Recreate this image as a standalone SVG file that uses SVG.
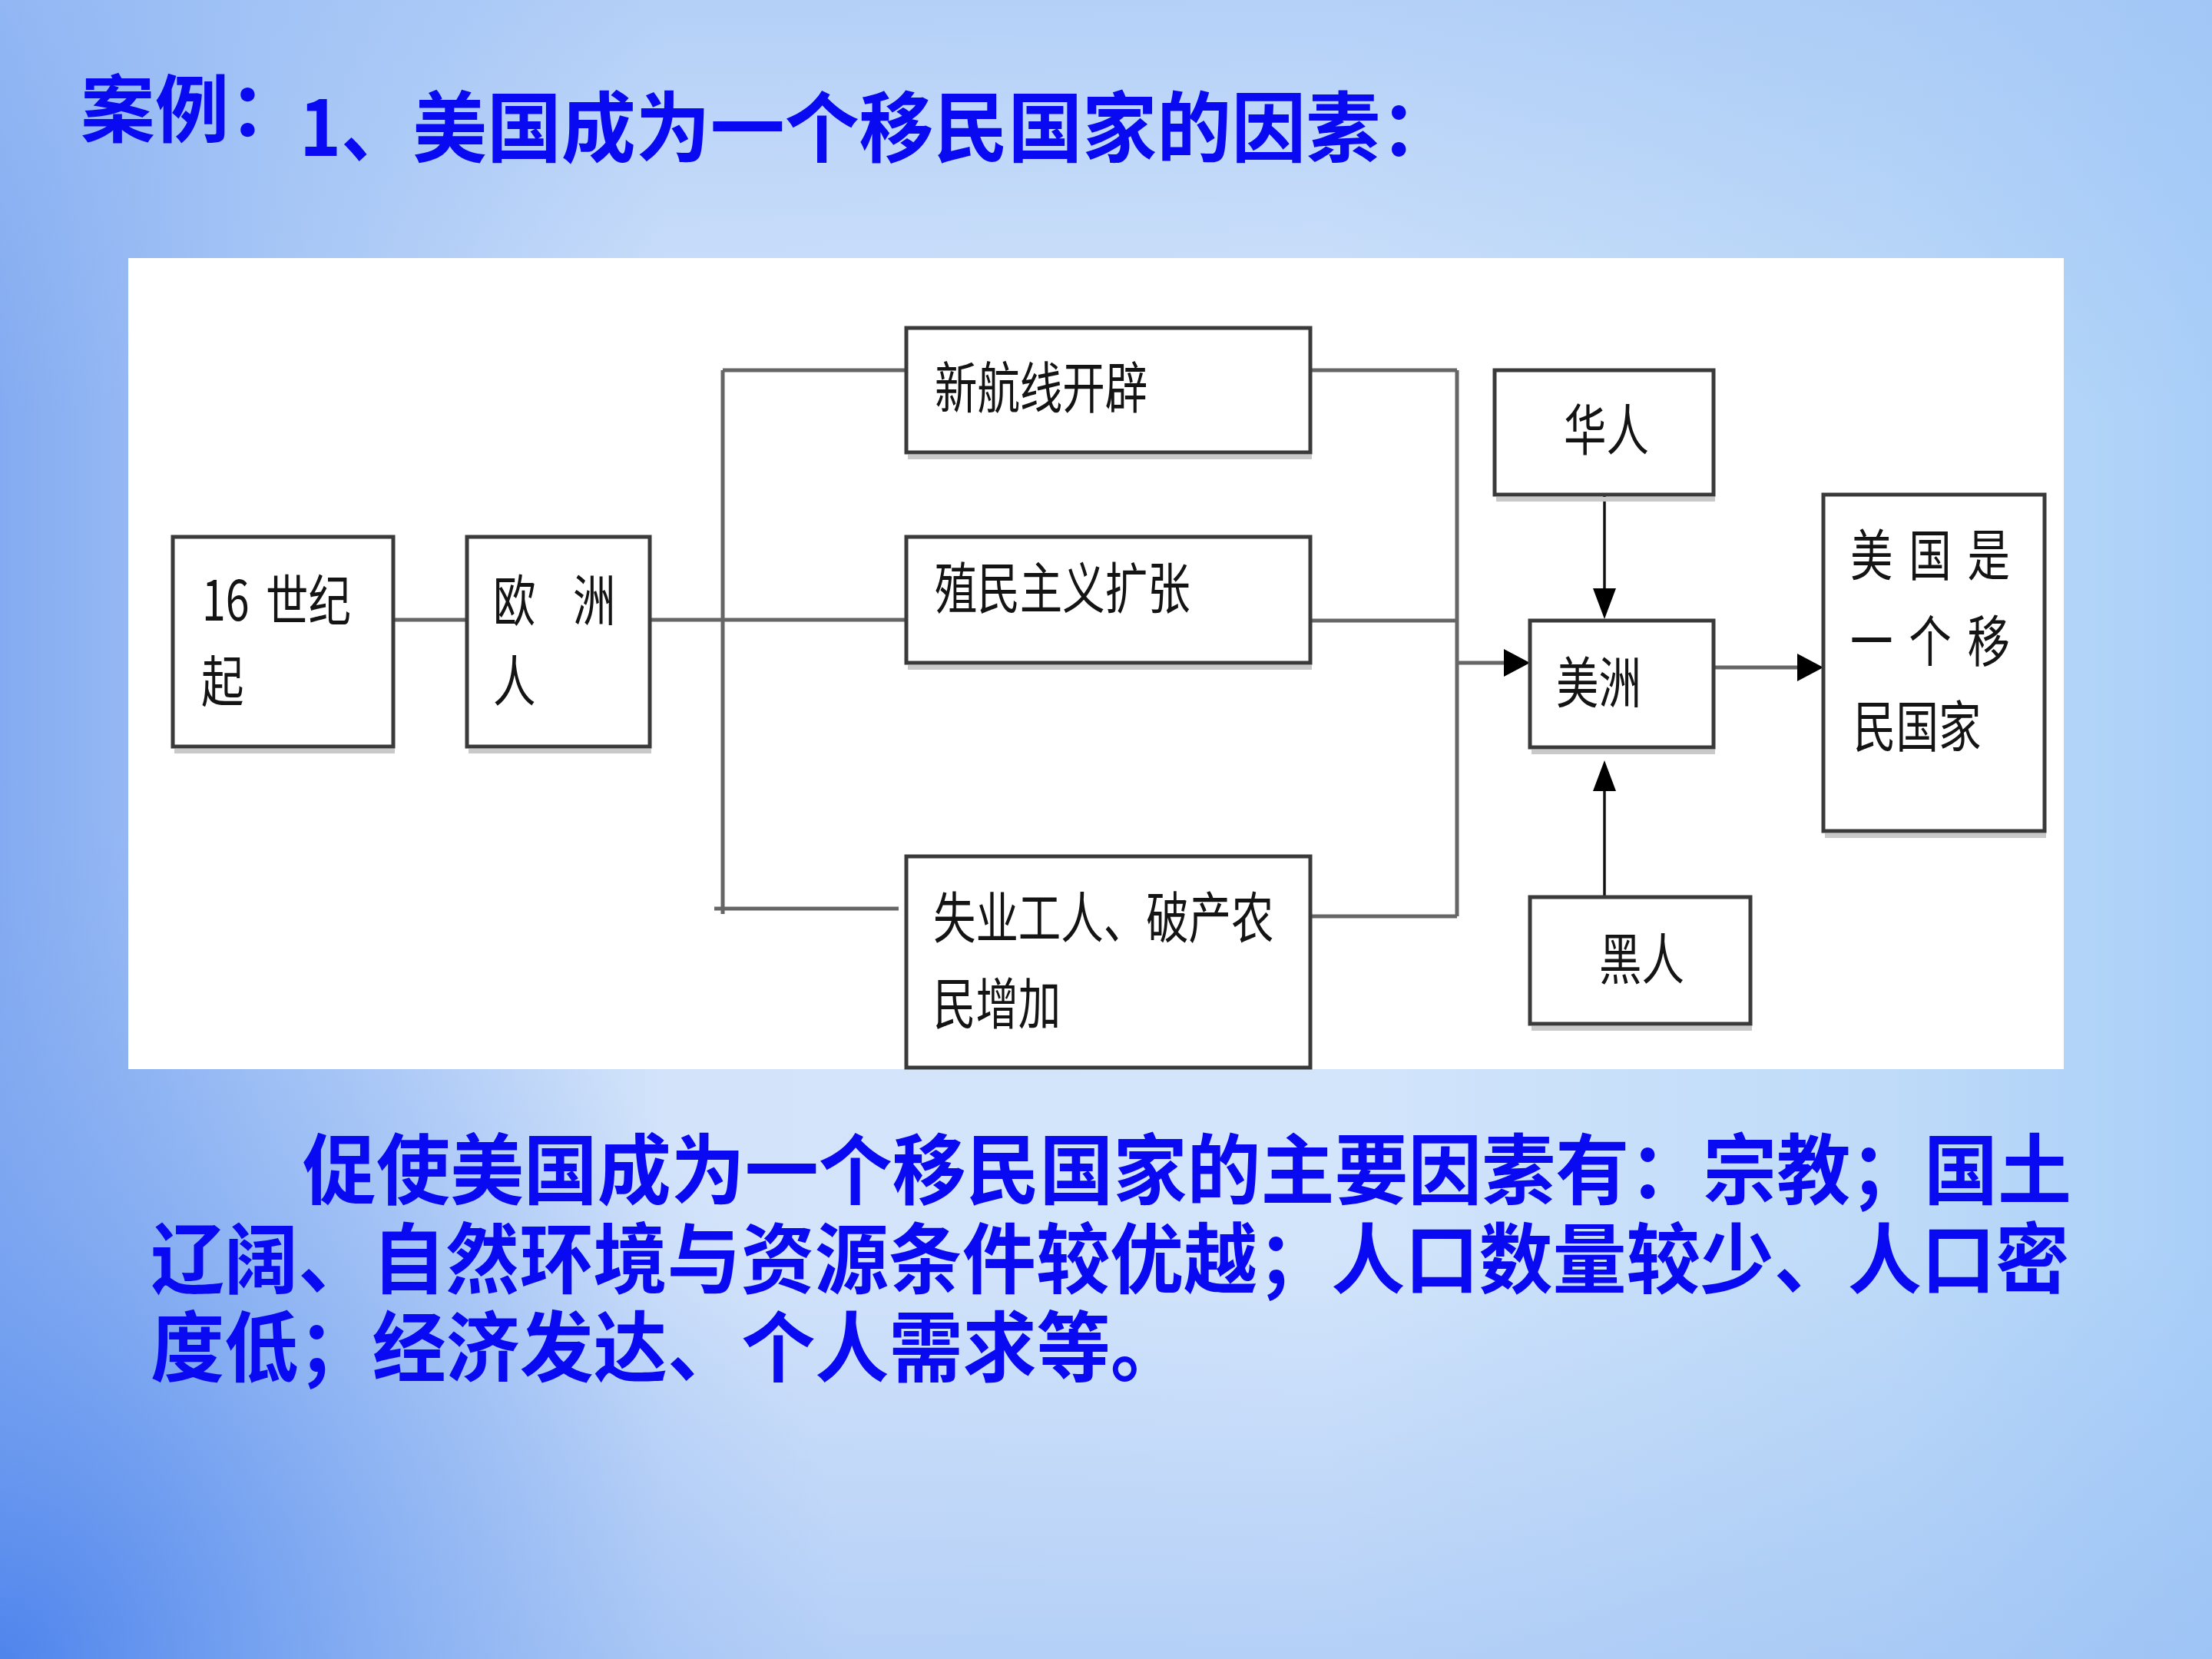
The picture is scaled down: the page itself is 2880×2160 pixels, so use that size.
<svg xmlns="http://www.w3.org/2000/svg" width="2880" height="2160" viewBox="0 0 2880 2160">
  <defs>
    <linearGradient id="bgH" x1="0" y1="0" x2="1" y2="0">
      <stop offset="0" stop-color="#84abf1"/>
      <stop offset="0.12" stop-color="#a7c6f6"/>
      <stop offset="0.3" stop-color="#d2e3fa"/>
      <stop offset="0.6" stop-color="#d3e5fb"/>
      <stop offset="0.85" stop-color="#bfdbf8"/>
      <stop offset="1" stop-color="#a9cff8"/>
    </linearGradient>
    <linearGradient id="bgV" x1="0" y1="0" x2="0" y2="1">
      <stop offset="0" stop-color="#9cc0f5" stop-opacity="0.55"/>
      <stop offset="0.25" stop-color="#9cc0f5" stop-opacity="0"/>
      <stop offset="0.75" stop-color="#8fb6f2" stop-opacity="0"/>
      <stop offset="1" stop-color="#8fb6f2" stop-opacity="0.45"/>
    </linearGradient>
    <radialGradient id="bgBL" cx="0" cy="2160" r="1100" gradientUnits="userSpaceOnUse">
      <stop offset="0" stop-color="#4c82ec" stop-opacity="0.95"/>
      <stop offset="0.5" stop-color="#6d9cef" stop-opacity="0.45"/>
      <stop offset="1" stop-color="#86adf2" stop-opacity="0"/>
    </radialGradient>
    <marker id="arrH" markerUnits="userSpaceOnUse" markerWidth="34" markerHeight="36" refX="14" refY="18" orient="auto" viewBox="0 0 34 36">
      <path d="M0,0 L34,18 L0,36 z" fill="#000"/>
    </marker>
    <marker id="arrV" markerUnits="userSpaceOnUse" markerWidth="40" markerHeight="30" refX="15" refY="15" orient="auto" viewBox="0 0 40 30">
      <path d="M0,0 L40,15 L0,30 z" fill="#000"/>
    </marker>
    <style>
      .title { font-family: "Noto Sans CJK SC", "Noto Sans", sans-serif; font-weight: 700; fill: #0a0af2; }
      .body { font-family: "Noto Sans CJK SC", "Noto Sans", sans-serif; font-weight: 700; font-size: 100px; fill: #0a0af2; }
      .box { fill: #ffffff; stroke: #3a3a3a; stroke-width: 5; }
      .shadow { fill: #c9c9c9; }
      .lbl { font-family: "Noto Sans CJK SC", "Noto Sans", sans-serif; font-weight: 400; font-size: 72px; fill: #141414; }
      .wire { fill: none; stroke: #666666; stroke-width: 5; }
      .thin { fill: none; stroke: #111111; stroke-width: 3.5; }
    </style>
  </defs>

  <!-- background -->
  <rect x="0" y="0" width="2880" height="2160" fill="url(#bgH)"/>
  <rect x="0" y="0" width="2880" height="2160" fill="url(#bgV)"/>
  <rect x="0" y="0" width="2880" height="2160" fill="url(#bgBL)"/>

  <!-- title -->
  <text class="title" x="105" y="177" font-size="96" textLength="290" lengthAdjust="spacingAndGlyphs">案例：</text>
  <text class="title" y="203" font-size="100"><tspan x="390" textLength="146" lengthAdjust="spacingAndGlyphs">1、</tspan><tspan x="537" textLength="1357" lengthAdjust="spacingAndGlyphs">美国成为一个移民国家的因素：</tspan></text>

  <!-- diagram panel -->
  <rect x="167" y="336" width="2520" height="1056" fill="#ffffff"/>

  <g id="connectors">
    <path class="wire" d="M512 807 H608"/>
    <path class="wire" d="M846 807 H941"/>
    <path class="wire" d="M941 482 V1190"/>
    <path class="wire" d="M941 482 H1180"/>
    <path class="wire" d="M941 807 H1180"/>
    <path class="wire" d="M930 1183 H1170"/>
    <path class="wire" d="M1706 482 H1897"/>
    <path class="wire" d="M1706 808 H1897"/>
    <path class="wire" d="M1706 1193 H1897"/>
    <path class="wire" d="M1897 482 V1193"/>
    <path class="wire" d="M1897 863 H1972" marker-end="url(#arrH)"/>
    <path class="wire" d="M2231 869 H2354" marker-end="url(#arrH)"/>
    <path class="thin" d="M2089 644 V781" marker-end="url(#arrV)"/>
    <path class="thin" d="M2089 1168 V1015" marker-end="url(#arrV)"/>
  </g>

  <g id="n1">
    <rect class="shadow" x="227" y="975" width="287" height="6"/>
    <rect class="box" x="225" y="699" width="287" height="273"/>
    <text class="lbl" transform="scale(0.77 1)"><tspan x="341.6" y="808">16</tspan><tspan x="449.4" y="808">世纪</tspan><tspan x="340.3" y="913">起</tspan></text>
  </g>
  <g id="n2">
    <rect class="shadow" x="610" y="975" width="238" height="6"/>
    <rect class="box" x="608" y="699" width="238" height="273"/>
    <text class="lbl" transform="scale(0.77 1)"><tspan x="833.8" y="808">欧</tspan><tspan x="968.8" y="808">洲</tspan><tspan x="833.8" y="913">人</tspan></text>
  </g>
  <g id="n3">
    <rect class="shadow" x="1182" y="592" width="526" height="6"/>
    <rect class="box" x="1180" y="427" width="526" height="162"/>
    <text class="lbl" transform="scale(0.77 1)" x="1580.5" y="531">新航线开辟</text>
  </g>
  <g id="n4">
    <rect class="shadow" x="1182" y="866" width="526" height="6"/>
    <rect class="box" x="1180" y="699" width="526" height="164"/>
    <text class="lbl" transform="scale(0.77 1)" x="1580.5" y="792">殖民主义扩张</text>
  </g>
  <g id="n5">
    <rect class="box" x="1180" y="1115" width="526" height="275"/>
    <text class="lbl" transform="scale(0.77 1)"><tspan x="1577.9" y="1221">失业工人、破产农</tspan><tspan x="1577.9" y="1333">民增加</tspan></text>
  </g>
  <g id="n6">
    <rect class="shadow" x="1948" y="647" width="285" height="6"/>
    <rect class="box" x="1946" y="482" width="285" height="162"/>
    <text class="lbl" transform="scale(0.77 1)" x="2644.2" y="586">华人</text>
  </g>
  <g id="n7">
    <rect class="shadow" x="1994" y="976" width="239" height="6"/>
    <rect class="box" x="1992" y="808" width="239" height="165"/>
    <text class="lbl" transform="scale(0.77 1)" x="2631.2" y="915">美洲</text>
  </g>
  <g id="n8">
    <rect class="shadow" x="1994" y="1336" width="287" height="6"/>
    <rect class="box" x="1992" y="1168" width="287" height="165"/>
    <text class="lbl" transform="scale(0.77 1)" x="2703.9" y="1275">黑人</text>
  </g>
  <g id="n9">
    <rect class="shadow" x="2376" y="1085" width="288" height="6"/>
    <rect class="box" x="2374" y="644" width="288" height="438"/>
    <text class="lbl" transform="scale(0.77 1)"><tspan x="3128.6" y="749" letter-spacing="27">美国是</tspan><tspan x="3128.6" y="861" letter-spacing="27">一个移</tspan><tspan x="3133.8" y="972">民国家</tspan></text>
  </g>

  <!-- explanation -->
  <text class="body"><tspan x="394" y="1560" textLength="2303" lengthAdjust="spacingAndGlyphs">促使美国成为一个移民国家的主要因素有：宗教；国土</tspan><tspan x="196" y="1676" textLength="2498" lengthAdjust="spacingAndGlyphs">辽阔、自然环境与资源条件较优越；人口数量较少、人口密</tspan><tspan x="196" y="1791" textLength="1346" lengthAdjust="spacingAndGlyphs">度低；经济发达、个人需求等。</tspan></text>
</svg>
